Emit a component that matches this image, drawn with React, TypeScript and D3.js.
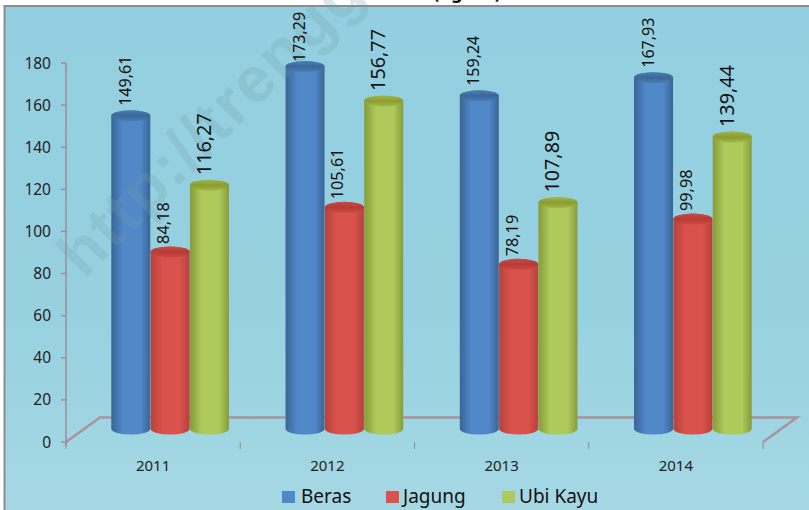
import React from "react";
import * as d3 from "d3";

const years = ["2011", "2012", "2013", "2014"];
const seriesNames = ["Beras", "Jagung", "Ubi Kayu"];
const beras = [149.61, 173.29, 159.24, 167.93];
const jagung = [84.18, 105.61, 78.19, 99.98];
const ubiKayu = [116.27, 156.77, 107.89, 139.44];
const yTicks = [0, 20, 40, 60, 80, 100, 120, 140, 160, 180];
const FONT = "'Noto Sans', sans-serif";

const W = 809, H = 510;
const x = d3.scaleBand<string>().domain(years).range([66, 763]);
const y = d3.scaleLinear().domain([0, 180]).range([442, 63]);
// cylinder heights sit on the 3D floor, which is set back from the axis
const depthX = 17;
const cylY = d3.scaleLinear().domain([0, 180]).range([427, 52.6]);
const slot = d3.scaleBand<string>().domain(seriesNames).range([-59, 59]);

const palette: Record<string, { edge: string; mid: string; top: string; topEdge: string }> = {
  Beras: { edge: "#3a6596", mid: "#5088c8", top: "#3a6899", topEdge: "#4a7fb5" },
  Jagung: { edge: "#b5423c", mid: "#d9524c", top: "#b83a36", topEdge: "#c94a45" },
  "Ubi Kayu": { edge: "#869c3a", mid: "#adca5a", top: "#8b9c32", topEdge: "#a0b844" },
};
const seriesValues: Record<string, number[]> = { Beras: beras, Jagung: jagung, "Ubi Kayu": ubiKayu };
const fmt = (v: number) => v.toFixed(2).replace(".", ",");
const rx = 19.5, ry = 5.5;
const labelStyle: Record<string, { dx: number; gap: number; size: number }> = {
  Beras: { dx: 0, gap: 10, size: 16 },
  Jagung: { dx: -1, gap: 8, size: 16.3 },
  "Ubi Kayu": { dx: 1.5, gap: 10, size: 19.8 },
};

function Cylinder({ name, i }: { name: string; i: number }) {
  const yr = years[i];
  const v = seriesValues[name][i];
  const cx = x(yr)! + x.bandwidth() / 2 + depthX + slot(name)! + slot.bandwidth() / 2;
  const top = cylY(v), base = cylY(0) + 2;
  const d = `M${cx - rx},${top} L${cx - rx},${base} A${rx},${ry} 0 0 0 ${cx + rx},${base} L${cx + rx},${top} A${rx},${ry} 0 0 0 ${cx - rx},${top} Z`;
  return (
    <g>
      <path d={d} fill={`url(#grad-${seriesNames.indexOf(name)})`} />
      <ellipse cx={cx} cy={top} rx={rx} ry={ry} fill={`url(#top-${seriesNames.indexOf(name)})`} />
    </g>
  );
}

function Label({ name, i }: { name: string; i: number }) {
  const yr = years[i];
  const v = seriesValues[name][i];
  const cx = x(yr)! + x.bandwidth() / 2 + depthX + slot(name)! + slot.bandwidth() / 2;
  const s = labelStyle[name];
  // the tallest label is pushed down against the bar by the plot top
  const gap = Math.min(s.gap, Math.max(4, cylY(v) - 62));
  return (
    <text
      transform={`translate(${cx + s.dx},${cylY(v) - gap}) rotate(-90)`}
      fontFamily={FONT}
      fontSize={s.size}
      fill="#111"
    >
      {fmt(v)}
    </text>
  );
}

export default function App() {
  const floorPts = `${x.range()[0]},${y(0)} 100,417.5 797,417.5 ${x.range()[1]},${y(0)}`;
  const legendItems = [
    { name: "Beras", sx: 282, tx: 301 },
    { name: "Jagung", sx: 386, tx: 403 },
    { name: "Ubi Kayu", sx: 502, tx: 519 },
  ];
  return (
    <svg width={W} height={H} style={{ position: "absolute", left: 0, top: 0, display: "block" }}>
      <defs>
        <linearGradient id="bg" x1="0" y1="0" x2="0" y2="1">
          <stop offset="0" stopColor="#93cfe0" />
          <stop offset="0.6" stopColor="#97d1e0" />
          <stop offset="1" stopColor="#a6d8e4" />
        </linearGradient>
        {seriesNames.map((n, i) => (
          <React.Fragment key={n}>
            <linearGradient id={`grad-${i}`} x1="0" x2="1" y1="0" y2="0">
              <stop offset="0" stopColor={palette[n].edge} />
              <stop offset="0.3" stopColor={palette[n].mid} />
              <stop offset="0.75" stopColor={palette[n].mid} />
              <stop offset="1" stopColor={palette[n].edge} />
            </linearGradient>
            <linearGradient id={`top-${i}`} x1="0" x2="0" y1="0" y2="1">
              <stop offset="0" stopColor={palette[n].topEdge} />
              <stop offset="0.5" stopColor={palette[n].top} />
              <stop offset="1" stopColor={palette[n].topEdge} />
            </linearGradient>
          </React.Fragment>
        ))}
      </defs>

      <rect width={W} height={H} fill="#fff" />
      <text x={467} y={-1} textAnchor="middle" fontFamily={FONT} fontWeight="bold" fontSize={18} fill="#111">(Kg/Ha)</text>
      <rect x={4.5} y={6} width={W} height={H} fill="url(#bg)" stroke="#8e8a8e" strokeWidth={2} />

      {/* Floor and axes */}
      <polyline points={floorPts} fill="none" stroke="#a8949c" strokeWidth={2.5} />
      <line x1={66} x2={66} y1={y(180)} y2={y(0) + 4} stroke="#a08c98" strokeWidth={1.5} />
      {yTicks.map((t) => (
        <g key={t}>
          <line x1={61} x2={66} y1={y(t)} y2={y(t)} stroke="#a08c98" strokeWidth={1.5} />
          <text x={51} y={y(t) + 5.5} textAnchor="end" fontFamily={FONT} fontSize={15.5} fill="#222">{t}</text>
        </g>
      ))}
      {years.concat(["end"]).map((yr, i) => {
        const tx = i < years.length ? x(yr)! : x.range()[1];
        return <line key={yr} x1={tx} x2={tx} y1={442} y2={449} stroke="#8a8a90" strokeWidth={1} />;
      })}
      {years.map((yr) => (
        <text key={yr} x={x(yr)! + x.bandwidth() / 2} y={471} textAnchor="middle" fontFamily={FONT} fontSize={15} fill="#222">{yr}</text>
      ))}

      {/* Cylinders */}
      {years.map((yr, i) => (
        <g key={yr}>
          <Cylinder name="Beras" i={i} />
          <Cylinder name="Ubi Kayu" i={i} />
          <Cylinder name="Jagung" i={i} />
        </g>
      ))}

      {/* Watermark lies over the bars */}
      <text
        transform="translate(84,280) rotate(-45)"
        fontFamily="'Liberation Sans', sans-serif"
        fontWeight="bold"
        fontSize={64}
        letterSpacing={2}
        fill="#6f9ea8"
        fillOpacity={0.24}
      >
        http://trenggalek
      </text>

      {years.map((yr, i) => (
        <g key={yr}>
          {seriesNames.map((n) => <Label key={n} name={n} i={i} />)}
        </g>
      ))}

      {/* Legend */}
      {legendItems.map((l) => (
        <g key={l.name}>
          <rect x={l.sx} y={491} width={13} height={12} fill={palette[l.name].mid} />
          <text x={l.tx} y={503} fontFamily={FONT} fontSize={19} fill="#111">{l.name}</text>
        </g>
      ))}
    </svg>
  );
}
